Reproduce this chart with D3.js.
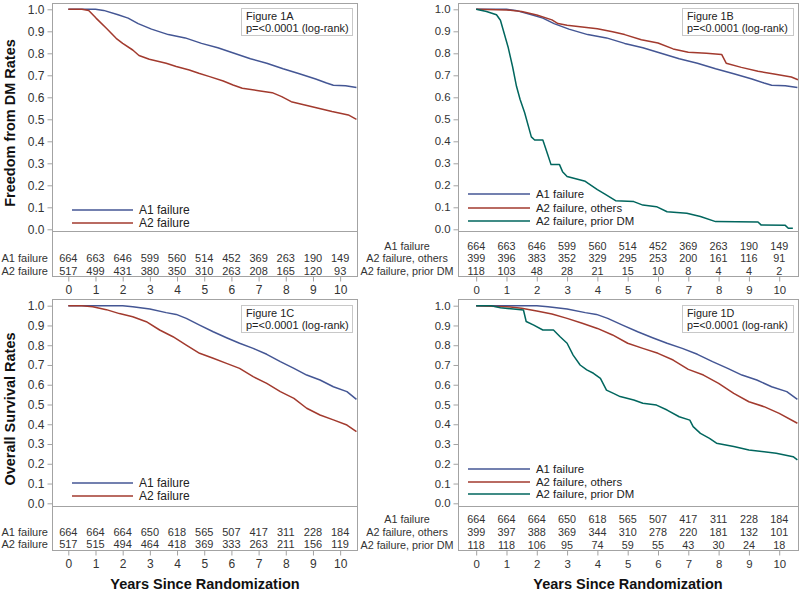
<!DOCTYPE html>
<html><head><meta charset="utf-8">
<script src="https://cdn.jsdelivr.net/npm/d3@7"></script>
<style>
body{margin:0;background:#fff;}
text{font-family:"Liberation Sans",Arial,sans-serif;fill:#222;}
</style></head>
<body><svg id="c" width="800" height="593"></svg>
<script>
// ---------- data ----------
const years = [0,1,2,3,4,5,6,7,8,9,10];
const yTicks = [0,0.1,0.2,0.3,0.4,0.5,0.6,0.7,0.8,0.9,1.0];

// Freedom from DM (Figures 1A / 1B)
const dmA1 = [[0,1],[1.0,1],[1.3,0.995],[1.83,0.975],[2.2,0.96],[2.57,0.935],[3.06,0.91],[3.68,0.885],[4.3,0.87],[4.9,0.845],[5.5,0.825],[6.1,0.80],[6.7,0.775],[7.3,0.755],[7.9,0.73],[8.5,0.707],[9.1,0.683],[9.5,0.665],[9.75,0.655],[10.2,0.652],[10.6,0.645]];
const dmA2 = [[0,1],[0.5,1],[0.75,0.995],[1.02,0.96],[1.4,0.914],[1.76,0.868],[2.0,0.845],[2.37,0.815],[2.6,0.79],[2.98,0.773],[3.6,0.755],[3.97,0.74],[4.45,0.724],[4.8,0.709],[5.2,0.694],[5.7,0.674],[6.06,0.656],[6.4,0.641],[7.0,0.63],[7.5,0.621],[7.85,0.603],[8.2,0.58],[8.7,0.565],[9.2,0.55],[9.7,0.535],[10.3,0.52],[10.6,0.50]];
const dmA2others = [[0,1],[1,0.997],[1.5,0.99],[2,0.974],[2.5,0.952],[2.7,0.935],[3,0.928],[3.5,0.92],[4,0.912],[4.5,0.898],[4.9,0.885],[5.45,0.862],[6,0.847],[6.5,0.82],[7,0.805],[7.6,0.80],[8.1,0.795],[8.25,0.755],[8.75,0.736],[9.3,0.718],[9.83,0.706],[10.4,0.692],[10.62,0.68]];
const dmA2prior = [[0,1],[0.34,0.99],[0.67,0.975],[0.8,0.95],[1.05,0.83],[1.2,0.74],[1.33,0.65],[1.45,0.59],[1.6,0.53],[1.82,0.42],[1.93,0.406],[2.2,0.406],[2.36,0.34],[2.47,0.294],[2.75,0.294],[2.85,0.262],[3.0,0.24],[3.6,0.218],[4.0,0.18],[4.25,0.16],[4.6,0.13],[5.2,0.126],[5.5,0.11],[5.95,0.103],[6.3,0.08],[6.95,0.073],[7.4,0.058],[7.9,0.035],[9.3,0.033],[9.4,0.02],[10.2,0.018],[10.3,0.005],[10.45,0.005]];

// Overall survival (Figures 1C / 1D)
const osA1 = [[0,1],[2.0,1],[2.37,0.995],[3,0.983],[3.6,0.965],[3.97,0.956],[4.34,0.936],[4.83,0.902],[5.33,0.868],[5.82,0.838],[6.3,0.81],[6.8,0.784],[7.3,0.754],[7.8,0.717],[8.3,0.683],[8.77,0.649],[9.26,0.624],[9.75,0.59],[10.25,0.565],[10.6,0.526]];
const osA2 = [[0,1],[0.5,1],[0.9,0.995],[1.4,0.98],[1.88,0.96],[2.37,0.944],[2.87,0.919],[3.36,0.877],[3.85,0.843],[4.34,0.80],[4.83,0.759],[5.33,0.734],[5.82,0.708],[6.3,0.683],[6.8,0.641],[7.3,0.607],[7.8,0.565],[8.3,0.531],[8.77,0.481],[9.26,0.447],[9.75,0.422],[10.25,0.396],[10.6,0.363]];
const osA2others = [[0,1],[1,0.995],[1.5,0.987],[2,0.973],[2.5,0.958],[3,0.936],[3.5,0.911],[4,0.885],[4.5,0.852],[5,0.81],[5.5,0.784],[6,0.759],[6.5,0.725],[7,0.678],[7.5,0.649],[8,0.607],[8.5,0.556],[9,0.514],[9.5,0.489],[10,0.455],[10.6,0.405]];
const osA2prior = [[0,1],[0.5,1],[0.8,0.99],[1.23,0.983],[1.56,0.978],[1.65,0.92],[1.9,0.902],[2.2,0.877],[2.55,0.877],[2.77,0.843],[3,0.81],[3.2,0.75],[3.43,0.70],[3.65,0.675],[3.87,0.658],[4.1,0.632],[4.3,0.573],[4.53,0.556],[4.75,0.54],[5.2,0.523],[5.5,0.506],[5.95,0.497],[6.3,0.472],[6.7,0.438],[7.05,0.421],[7.16,0.388],[7.4,0.354],[7.7,0.329],[7.93,0.304],[8.5,0.287],[9,0.27],[9.9,0.253],[10.46,0.236],[10.6,0.22]];

// Numbers at risk
const riskDmA1 = [664,663,646,599,560,514,452,369,263,190,149];
const riskDmA2 = [517,499,431,380,350,310,263,208,165,120,93];
const riskDmA2others = [399,396,383,352,329,295,253,200,161,116,91];
const riskDmA2prior = [118,103,48,28,21,15,10,8,4,4,2];
const riskOsA1 = [664,664,664,650,618,565,507,417,311,228,184];
const riskOsA2 = [517,515,494,464,418,369,333,263,211,156,119];
const riskOsA2others = [399,397,388,369,344,310,278,220,181,132,101];
const riskOsA2prior = [118,118,106,95,74,59,55,43,30,24,18];

const groupNames2 = ["A1 failure","A2 failure"];
const groupNames3 = ["A1 failure","A2 failure, others","A2 failure, prior DM"];
const colors = ["#445694","#A23A2E","#01665E"];

// ---------- layout (panel options built from the arrays) ----------
const panels = [
 {title:"Figure 1A", names:groupNames2, curves:[dmA1,dmA2], risk:[riskDmA1,riskDmA2],
  x0:52,x1:357,top:3,div:231,bot:276,v1:9.3,v0:229.3, rowY:[258,271], labX:48, labAnchor:"end",
  legY:[210,223], legX:[72,133], box:[241,8,111,27], fs:12, fsSmall:11},
 {title:"Figure 1B", names:groupNames3, curves:[dmA1,dmA2others,dmA2prior], risk:[riskDmA1,riskDmA2others,riskDmA2prior],
  x0:458,x1:798,top:3,div:231,bot:276,v1:9.3,v0:229.3, rowY:[246,258,271], labX:407, labAnchor:"middle",
  legY:[194,208,221], legX:[468,530], box:[682,8,111,27], fs:11.4, fsSmall:10.8},
 {title:"Figure 1C", names:groupNames2, curves:[osA1,osA2], risk:[riskOsA1,riskOsA2],
  x0:52,x1:357,top:299,div:506,bot:550,v1:305.7,v0:503.3, rowY:[532,544], labX:48, labAnchor:"end",
  legY:[483,496], legX:[72,133], box:[241,305,111,27], fs:12, fsSmall:11},
 {title:"Figure 1D", names:groupNames3, curves:[osA1,osA2others,osA2prior], risk:[riskOsA1,riskOsA2others,riskOsA2prior],
  x0:458,x1:798,top:299,div:506,bot:550,v1:305.7,v0:503.3, rowY:[519,532,545], labX:407, labAnchor:"middle",
  legY:[469,482,494], legX:[468,530], box:[682,305,111,27], fs:11.4, fsSmall:10.8}
];

const svg = d3.select("#c");
const frameCol = "#a3a3a3";

panels.forEach(p => {
  const g = svg.append("g");
  const x = d3.scaleLinear().domain([-0.6,10.62]).range([p.x0,p.x1]);
  const y = d3.scaleLinear().domain([0,1]).range([p.v0,p.v1]);

  // curves
  const line = d3.line().x(d=>x(d[0])).y(d=>y(d[1]));
  p.curves.forEach((c,i)=>{
    g.append("path").attr("d",line(c)).attr("fill","none")
     .attr("stroke",colors[i]).attr("stroke-width",1.5).attr("stroke-linejoin","round");
  });

  // frame
  g.append("rect").attr("x",p.x0+0.5).attr("y",p.top+0.5).attr("width",p.x1-p.x0).attr("height",p.bot-p.top)
   .attr("fill","none").attr("stroke",frameCol);
  g.append("line").attr("x1",p.x0).attr("x2",p.x1).attr("y1",p.div+0.5).attr("y2",p.div+0.5).attr("stroke",frameCol);

  // y axis
  const ya = g.append("g").attr("transform",`translate(${p.x0+0.5},0)`)
    .call(d3.axisLeft(y).tickValues(yTicks).tickFormat(d3.format(".1f")).tickSize(5).tickPadding(3));
  ya.select(".domain").remove();
  ya.selectAll("line").attr("stroke",frameCol);
  ya.selectAll("text").style("font-size",p.fs+"px").style("fill","#333").style("font-family","Liberation Sans, Arial, sans-serif");

  // x axis at bottom of table
  const xa = g.append("g").attr("transform",`translate(0,${p.bot+0.5})`)
    .call(d3.axisBottom(x).tickValues(years).tickFormat(d3.format("d")).tickSize(5).tickPadding(4));
  xa.select(".domain").remove();
  xa.selectAll("line").attr("stroke",frameCol);
  xa.selectAll("text").style("font-size",p.fs+"px").style("fill","#333").style("font-family","Liberation Sans, Arial, sans-serif");

  // risk table
  p.risk.forEach((r,i)=>{
    g.selectAll(null).data(r).enter().append("text")
      .attr("x",(d,j)=>x(years[j])).attr("y",p.rowY[i]).attr("dy","0.35em")
      .attr("text-anchor","middle").style("font-size",p.fsSmall+"px").style("fill","#333").text(d=>d);
    g.append("text").attr("x",p.labX).attr("y",p.rowY[i]).attr("dy","0.35em")
      .attr("text-anchor",p.labAnchor).style("font-size",p.fsSmall+"px").style("fill","#333").text(p.names[i]);
  });

  // legend
  p.names.forEach((n,i)=>{
    g.append("line").attr("x1",p.legX[0]).attr("x2",p.legX[1]).attr("y1",p.legY[i]).attr("y2",p.legY[i])
      .attr("stroke",colors[i]).attr("stroke-width",1.5);
    g.append("text").attr("x",p.legX[1]+6).attr("y",p.legY[i]).attr("dy","0.35em")
      .style("font-size",p.fs+"px").text(n);
  });

  // inset box
  const [bx,by,bw,bh] = p.box;
  g.append("rect").attr("x",bx+0.5).attr("y",by+0.5).attr("width",bw).attr("height",bh)
    .attr("fill","#fff").attr("stroke","#c8c8c8");
  g.append("text").attr("x",bx+5).attr("y",by+8.5).attr("dy","0.35em").style("font-size",p.fsSmall+"px").text(p.title);
  g.append("text").attr("x",bx+5).attr("y",by+20.5).attr("dy","0.35em").style("font-size",p.fsSmall+"px").text("p=<0.0001 (log-rank)");
});

// axis titles
svg.append("text").attr("transform","translate(15,123) rotate(-90)").attr("text-anchor","middle")
  .style("font-size","14.5px").style("font-weight","bold").style("fill","#111").text("Freedom from DM Rates");
svg.append("text").attr("transform","translate(15,409) rotate(-90)").attr("text-anchor","middle")
  .style("font-size","14.5px").style("font-weight","bold").style("fill","#111").text("Overall Survival Rates");
svg.append("text").attr("x",205).attr("y",589).attr("text-anchor","middle")
  .style("font-size","14.5px").style("font-weight","bold").style("fill","#111").text("Years Since Randomization");
svg.append("text").attr("x",628).attr("y",589).attr("text-anchor","middle")
  .style("font-size","14.5px").style("font-weight","bold").style("fill","#111").text("Years Since Randomization");
</script></body></html>
